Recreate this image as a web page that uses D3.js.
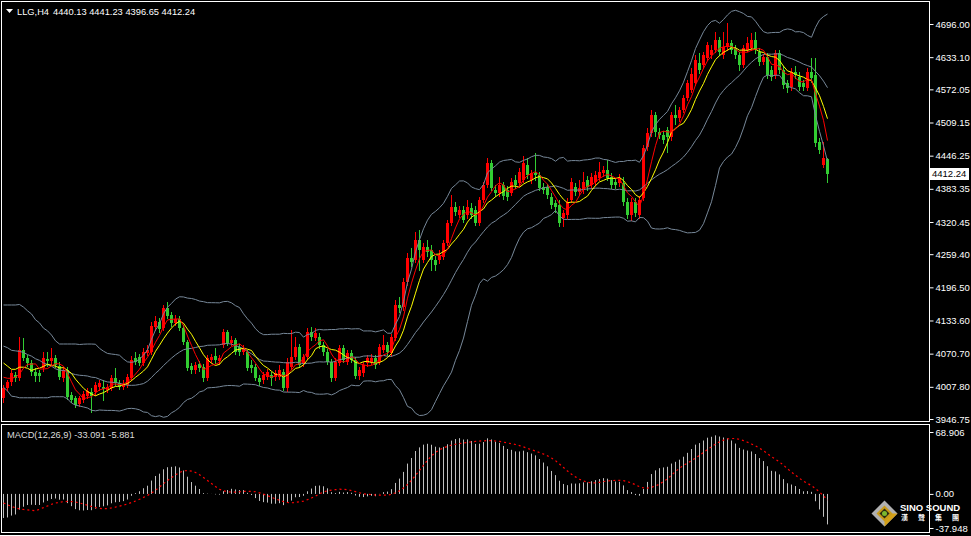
<!DOCTYPE html>
<html><head><meta charset="utf-8">
<script src="https://cdn.jsdelivr.net/npm/d3@7"></script>
<style>html,body{margin:0;padding:0;background:#000;overflow:hidden}</style>
</head><body>
<svg id="c" width="971" height="536"></svg>
<script>
// ---- data ----
const symbolLabel = "LLG,H4";
const opens = [3987,4006,4017,4030,4025,4078,4062,4053,4036,4034,
4044,4060,4057,4062,4047,4024,4040,3992,3987,3975,
3983,3990,3998,3998,4007,4007,4002,4006,4025,4015,
4007,4011,4025,4062,4064,4053,4072,4074,4121,4131,
4119,4157,4144,4129,4136,4119,4093,4047,4040,4051,
4045,4024,4059,4066,4057,4087,4112,4091,4096,4083,
4074,4074,4049,4045,4024,4021,4026,4030,4026,4026,
4036,4006,4045,4064,4083,4053,4064,4112,4100,4102,
4087,4074,4055,4024,4053,4081,4055,4072,4059,4028,
4034,4053,4055,4062,4055,4078,4087,4072,4100,4163,
4159,4206,4252,4248,4286,4248,4273,4267,4248,4248,
4254,4281,4319,4349,4334,4343,4334,4347,4343,4319,
4362,4391,4432,4381,4375,4391,4381,4375,4400,4394,
4400,4428,4400,4413,4410,4387,4387,4368,4356,4353,
4328,4334,4362,4387,4377,4381,4400,4391,4396,4404,
4413,4419,4406,4396,4394,4394,4358,4334,4358,4334,
4366,4463,4489,4523,4491,4485,4495,4481,4523,4517,
4533,4556,4571,4584,4622,4618,4631,4637,4647,4666,
4637,4652,4660,4650,4637,4618,4646,4650,4666,4643,
4624,4633,4609,4599,4641,4609,4584,4576,4605,4595,
4584,4575,4605,4599,4472,4428,4440.13];
const highs = [4011,4021,4040,4036,4102,4100,4068,4059,4043,4040,
4074,4074,4081,4068,4055,4045,4045,3998,3990,3990,
4000,4006,4006,4017,4021,4021,4013,4030,4044,4021,
4021,4032,4066,4074,4070,4081,4087,4131,4142,4138,
4163,4169,4150,4144,4142,4125,4097,4053,4055,4057,
4051,4068,4070,4081,4068,4117,4116,4104,4100,4089,
4087,4078,4059,4051,4030,4036,4042,4036,4040,4049,
4042,4062,4116,4102,4089,4070,4119,4121,4119,4110,
4093,4079,4060,4062,4087,4087,4078,4078,4064,4045,
4055,4068,4070,4068,4089,4106,4093,4108,4172,4178,
4214,4262,4271,4301,4305,4280,4286,4276,4256,4267,
4286,4324,4372,4358,4351,4351,4362,4356,4351,4368,
4396,4442,4438,4391,4406,4396,4389,4404,4410,4423,
4446,4442,4419,4451,4415,4394,4392,4375,4362,4362,
4343,4366,4404,4394,4400,4415,4408,4413,4417,4434,
4427,4438,4413,4404,4411,4406,4366,4366,4366,4370,
4466,4499,4533,4529,4499,4493,4501,4529,4542,4538,
4561,4590,4612,4637,4641,4643,4662,4656,4681,4671,
4681,4698,4666,4656,4643,4656,4671,4679,4681,4650,
4639,4641,4616,4647,4647,4616,4590,4612,4616,4605,
4590,4612,4631,4631,4480,4472,4441.23];
const lows = [3979,4002,4011,4019,4021,4059,4047,4030,4019,4019,
4038,4047,4051,4045,4023,4019,3985,3979,3969,3971,
3979,3987,3960,3992,4002,3983,3998,4002,4011,4004,
4004,4007,4021,4051,4049,4049,4068,4070,4116,4112,
4116,4138,4123,4125,4116,4089,4040,4034,4034,4038,
4019,4021,4055,4053,4051,4083,4087,4087,4070,4068,
4070,4040,4036,4021,4011,4015,4023,4011,4021,4023,
4002,4000,4042,4060,4045,4047,4060,4097,4097,4081,
4068,4051,4019,4021,4049,4055,4051,4055,4024,4023,
4028,4047,4051,4043,4051,4074,4068,4066,4096,4150,
4153,4201,4237,4244,4229,4244,4256,4229,4229,4243,
4250,4277,4315,4334,4330,4320,4328,4328,4315,4315,
4358,4387,4381,4370,4370,4364,4362,4372,4385,4389,
4396,4404,4394,4400,4381,4375,4366,4347,4339,4313,
4313,4328,4358,4372,4372,4375,4381,4385,4391,4400,
4408,4400,4385,4385,4389,4353,4328,4324,4332,4328,
4362,4457,4484,4484,4480,4470,4453,4476,4506,4512,
4529,4552,4567,4580,4603,4612,4628,4631,4643,4637,
4631,4647,4641,4631,4609,4614,4645,4646,4641,4618,
4620,4594,4590,4594,4603,4575,4567,4571,4594,4571,
4571,4571,4586,4465,4451,4425,4396.65];
const closes = [4006,4017,4034,4025,4078,4062,4053,4036,4028,4029,
4062,4057,4062,4049,4026,4040,3988,3983,3973,3987,
3994,4000,3990,4011,4015,4004,4007,4025,4015,4007,
4013,4026,4059,4055,4053,4074,4078,4123,4133,4118,
4157,4142,4129,4136,4119,4093,4044,4040,4049,4044,
4024,4062,4064,4059,4062,4112,4091,4096,4074,4074,
4081,4043,4043,4024,4017,4030,4036,4024,4034,4040,
4006,4055,4064,4083,4049,4064,4112,4102,4110,4087,
4074,4055,4024,4055,4081,4059,4072,4059,4028,4040,
4049,4062,4062,4049,4083,4087,4074,4102,4163,4157,
4206,4252,4244,4286,4267,4273,4263,4248,4239,4258,
4281,4319,4349,4339,4343,4324,4349,4334,4319,4362,
4391,4432,4385,4375,4391,4370,4368,4396,4391,4415,
4432,4410,4413,4410,4385,4381,4372,4353,4349,4319,
4338,4358,4396,4377,4385,4396,4387,4406,4410,4415,
4419,4404,4391,4391,4404,4358,4334,4358,4338,4362,
4461,4489,4523,4491,4485,4476,4481,4523,4517,4533,
4556,4584,4601,4628,4609,4637,4656,4647,4666,4643,
4652,4660,4647,4637,4618,4650,4660,4666,4647,4624,
4633,4599,4595,4641,4609,4580,4575,4605,4599,4576,
4576,4605,4593,4470,4457,4442,4412.24];

// indicator values at the left edge (before a full window exists)
const bbUpperHead = [4163,4163,4163,4163,4164,4159,4152,4146,4135,4129,4119,4114,4106,4095,4089,4089,4089,4089,4089];
const bbMidHead   = [4085,4082,4077,4076,4075,4073,4069,4066,4061,4058,4053,4050,4047,4042,4039,4039,4037,4033,4031];
const bbLowerHead = [4007,4000,3990,3989,3987,3987,3987,3987,3987,3987,3987,3987,3989,3989,3989,3989,3985,3977,3973];
const ma5Head = [4026,4024,4024,4026];
const ma8Head = [4053,4047,4041,4041,4045,4045,4043];
const macdSeed = [4040, 4066, -8]; // EMA12, EMA26 before first bar, earlier MACD level

const priceTicks = [4696.00,4633.10,4572.05,4509.15,4446.25,4383.35,4320.45,4259.40,4196.50,4133.60,4070.70,4007.80,3946.75];
const macdTicks = [68.906, 0.00, -37.948];
const macdTickLabels = ["68.906","0.00","-37.948"];
const macdReadout = [-33.091, -5.881];

// ---- layout ----
const svg = d3.select("#c");
const N = closes.length;
const FONT = "'Liberation Sans', Arial, sans-serif";
svg.append("rect").attr("width",971).attr("height",536).attr("fill","#000");

const x = d3.scaleBand().domain(d3.range(N)).range([1.5, 1.5 + 4*N]);
const cx = i => x(i) + x.bandwidth()/2;
const y = d3.scaleLinear().domain([3946.75, 4696.00]).range([419, 24]);
const ym = d3.scaleLinear().domain([-37.948, 68.906]).range([528, 432]);

const defs = svg.append("defs");
defs.append("clipPath").attr("id","cm").append("rect").attr("x",2).attr("y",2).attr("width",927).attr("height",419);
defs.append("clipPath").attr("id","cd").append("rect").attr("x",2).attr("y",425).attr("width",927).attr("height",107);

// ---- indicators ----
function sma(arr, n, i){ let s=0; for(let k=i-n+1;k<=i;k++) s+=arr[k]; return s/n; }
const bbU=[], bbM=[], bbL=[], ma5=[], ma8=[];
for(let i=0;i<N;i++){
  if(i<19){ bbU.push(bbUpperHead[i]); bbM.push(bbMidHead[i]); bbL.push(bbLowerHead[i]); }
  else {
    const m = sma(closes,20,i);
    let v=0; for(let k=i-19;k<=i;k++) v+=(closes[k]-m)**2;
    const sd = Math.sqrt(v/20);
    bbM.push(m); bbU.push(m+2*sd); bbL.push(m-2*sd);
  }
  ma5.push(i<4 ? ma5Head[i] : sma(closes,5,i));
  ma8.push(i<7 ? ma8Head[i] : sma(closes,8,i));
}
const macd=[], sig=[];
let e12=macdSeed[0], e26=macdSeed[1];
for(let i=0;i<N;i++){
  e12 += (closes[i]-e12)*2/13;
  e26 += (closes[i]-e26)*2/27;
  macd.push(e12-e26);
  let s=0, c=0;
  for(let k=i-8;k<=i;k++){ if(k>=0){ s+=macd[k]; } else { s+=macdSeed[2]; } c++; }
  sig.push(s/c);
}

// ---- main panel ----
const main = svg.append("g").attr("clip-path","url(#cm)");
const cg = main.append("g");
for(let i=0;i<N;i++){
  const up = closes[i] >= opens[i];
  const col = up ? "#ff0000" : "#32cd32";
  const c = cx(i);
  cg.append("line").attr("x1",c).attr("x2",c).attr("y1",Math.round(y(highs[i]))).attr("y2",Math.round(y(lows[i]))+1)
    .attr("stroke",col).attr("stroke-width",1);
  const y0 = Math.round(Math.min(y(opens[i]),y(closes[i])));
  const y1 = Math.round(Math.max(y(opens[i]),y(closes[i])));
  cg.append("rect").attr("x",c-1.5).attr("y",y0).attr("width",3).attr("height",Math.max(1,y1-y0)).attr("fill",col);
}
const line = d3.line().x((d,i)=>cx(i)).y(d=>y(d));
[[bbU,"#778899"],[bbM,"#778899"],[bbL,"#778899"],[ma8,"#ffff00"],[ma5,"#ff0000"]].forEach(([arr,col])=>{
  main.append("path").datum(arr).attr("d",line).attr("fill","none").attr("stroke",col).attr("stroke-width",1);
});

// ---- MACD panel ----
const md = svg.append("g").attr("clip-path","url(#cd)");
for(let i=0;i<N;i++){
  md.append("line").attr("x1",cx(i)).attr("x2",cx(i)).attr("y1",ym(0)).attr("y2",ym(macd[i]))
    .attr("stroke","#c0c0c0").attr("stroke-width",1);
}
md.append("path").datum(sig).attr("d",d3.line().x((d,i)=>cx(i)).y(d=>ym(d)))
  .attr("fill","none").attr("stroke","#ff0000").attr("stroke-width",1.2).attr("stroke-dasharray","2,3");

// ---- frames ----
svg.append("rect").attr("x",1.5).attr("y",1.5).attr("width",928).attr("height",420).attr("fill","none").attr("stroke","#fff");
svg.append("rect").attr("x",1.5).attr("y",424.5).attr("width",928).attr("height",108).attr("fill","none").attr("stroke","#fff");
svg.append("line").attr("x1",0).attr("x2",930).attr("y1",535.5).attr("y2",535.5).attr("stroke","#fff");

// ---- axes ----
const ax = svg.append("g").attr("transform","translate(929.5,0)")
  .call(d3.axisRight(y).tickValues(priceTicks).tickFormat(d3.format(".2f")).tickSize(4).tickPadding(2));
ax.select(".domain").remove();
ax.selectAll("line").attr("stroke","#fff");
ax.selectAll("text").attr("fill","#fff").style("font-family",FONT).style("font-size","9.5px");

const axm = svg.append("g").attr("transform","translate(929.5,0)")
  .call(d3.axisRight(ym).tickValues(macdTicks).tickFormat((d,i)=>macdTickLabels[i]).tickSize(4).tickPadding(2));
axm.select(".domain").remove();
axm.selectAll("line").attr("stroke","#fff");
axm.selectAll("text").attr("fill","#fff").style("font-family",FONT).style("font-size","9.5px");

// current price box
const last = closes[N-1];
svg.append("rect").attr("x",930).attr("y",Math.round(y(last))-6).attr("width",39).attr("height",12).attr("fill","#fff");
svg.append("text").attr("x",932).attr("y",y(last)).attr("dy","0.35em").attr("fill","#000")
  .style("font-family",FONT).style("font-size","9.5px").text(d3.format(".2f")(last));

// ---- titles ----
svg.append("polygon").attr("points","6,9 13,9 9.5,13").attr("fill","#fff");
const fmt = d3.format(".2f");
svg.append("text").attr("x",17).attr("y",14.5).attr("fill","#fff").style("font-family",FONT).style("font-size","9.3px").text(symbolLabel);
svg.append("text").attr("x",53).attr("y",14.5).attr("fill","#fff").style("font-family",FONT).style("font-size","9.3px")
  .text([opens[N-1],highs[N-1],lows[N-1],closes[N-1]].map(fmt).join(" "));
svg.append("text").attr("x",7).attr("y",437.5).attr("fill","#dcdcdc").style("font-family",FONT).style("font-size","9.3px")
  .text("MACD(12,26,9) " + macdReadout[0].toFixed(3) + " " + macdReadout[1].toFixed(3));

// ---- logo ----
const lg = svg.append("g").attr("transform","translate(884.5,513.5)");
lg.append("polygon").attr("points","0,-13 13,0 0,13 -13,0").attr("fill","#b0b0b0");
lg.append("polygon").attr("points","0,13 13,0 6,0 0,6").attr("fill","#d4a017");
lg.append("polygon").attr("points","0,-8 8,0 0,8 -8,0").attr("fill","#c89a18");
lg.append("polygon").attr("points","0,-5 5,0 0,5 -5,0").attr("fill","#2a2a10");
lg.append("circle").attr("r",2.5).attr("fill","#7cb82f");
svg.append("text").attr("x",900).attr("y",511).attr("fill","#fff").style("font-family",FONT)
  .style("font-size","9.5px").style("font-weight","bold").text("SINO SOUND");
["漢","聲","集","團"].forEach((ch,k)=>{
  svg.append("text").attr("x",901+17*k).attr("y",520).attr("fill","#fff")
    .style("font-family","'Noto Sans CJK TC', sans-serif").style("font-size","7px").style("font-weight","bold").text(ch);
});
</script>
</body></html>
